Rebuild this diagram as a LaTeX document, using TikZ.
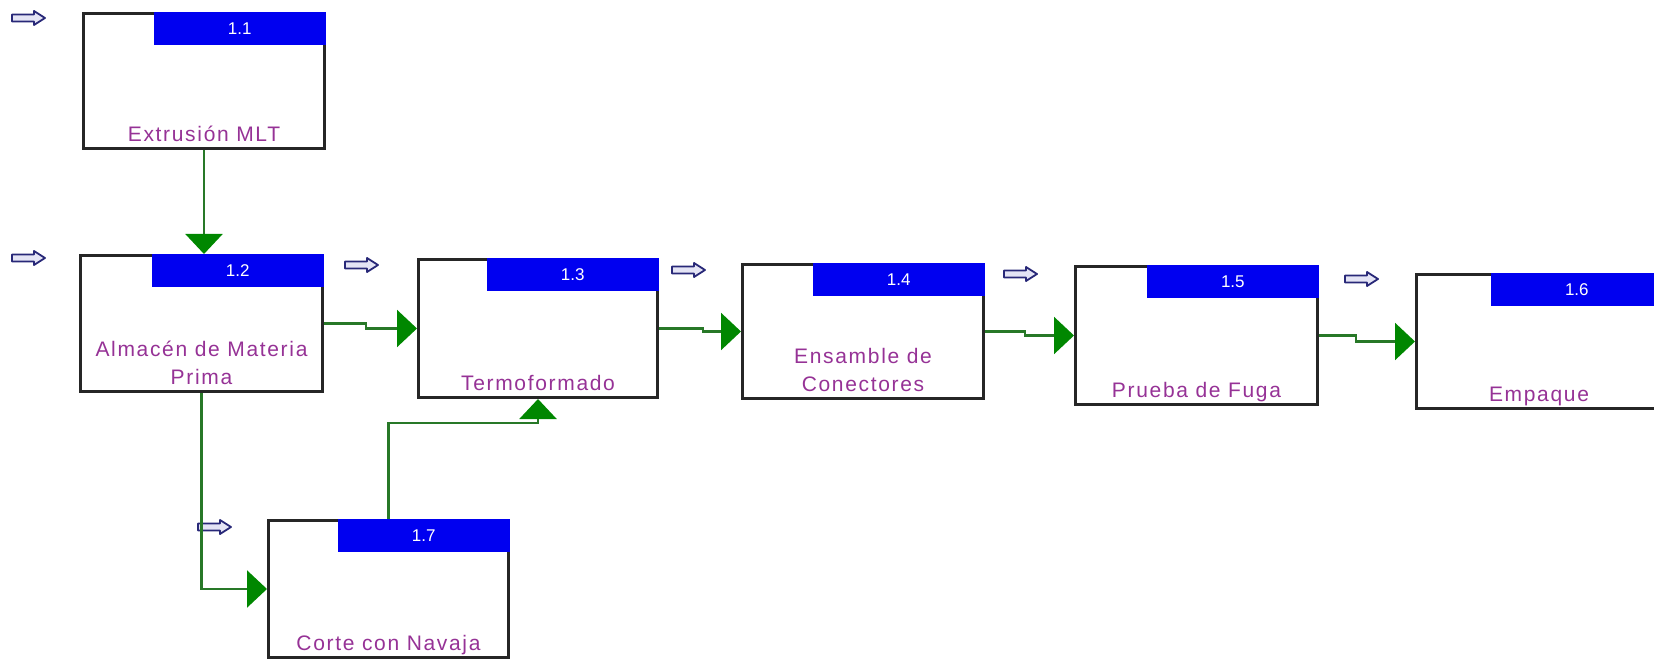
\documentclass[tikz,border=0pt]{standalone}
\usepackage{fontspec}
\setmainfont{Liberation Sans}
\newfontfamily\lblfont[LetterSpace=8]{Liberation Sans}
\usetikzlibrary{arrows.meta,calc}
\definecolor{barblue}{RGB}{0,0,240}
\definecolor{flowgreen}{RGB}{0,135,0}
\definecolor{linegreen}{RGB}{40,120,40}
\definecolor{lblpurple}{RGB}{150,50,150}
\definecolor{portnavy}{RGB}{40,40,120}
\definecolor{portfill}{RGB}{228,228,245}
\begin{document}
\begin{tikzpicture}[x=1pt,y=-1pt,
  stepbox/.style={draw=black!85, line width=3pt, fill=white, anchor=north west,
    inner sep=0pt, minimum width=241pt},
  idbar/.style={fill=barblue, anchor=north east, inner sep=0pt, minimum height=33pt,
    minimum width=172pt, text=white, font=\fontsize{17}{17}\selectfont},
  lbl/.style={text=lblpurple, font=\lblfont\fontsize{21}{28}\selectfont, align=center,
    anchor=south, inner sep=0pt, text depth=0pt},
  flow/.style={draw=linegreen, line width=2.3pt,
    -{Triangle[length=20pt,width=37pt,color=flowgreen]}},
  inport/.pic={\draw[portnavy, fill=portfill, line width=1.8pt, line join=round]
    (0,-3.5) -- (22,-3.5) -- (22,-7) -- (33,0) -- (22,7) -- (22,3.5) -- (0,3.5) -- cycle;}
]
\useasboundingbox (0,0) rectangle (1654,660);
\clip (0,0) rectangle (1654,660);

% process boxes
\node[stepbox, minimum height=135pt] (b1) at (82,12) {};
\node[stepbox, minimum width=242pt, minimum height=136pt] (b2) at (79,254) {};
\node[stepbox, minimum width=239pt, minimum height=138pt] (b3) at (417,258) {};
\node[stepbox, minimum height=134pt] (b4) at (741,263) {};
\node[stepbox, minimum width=242pt, minimum height=138pt] (b5) at (1074,265) {};
\node[stepbox, minimum width=245pt, minimum height=134pt] (b6) at (1415,273) {};
\node[stepbox, minimum width=240pt, minimum height=137pt] (b7) at (267,519) {};

% identifier bars
\node[idbar] (t1) at (b1.north east) {1.1};
\node[idbar] (t2) at (b2.north east) {1.2};
\node[idbar] (t3) at (b3.north east) {1.3};
\node[idbar] (t4) at (b4.north east) {1.4};
\node[idbar] (t5) at (b5.north east) {1.5};
\node[idbar] (t6) at (b6.north east) {1.6};
\node[idbar] (t7) at (b7.north east) {1.7};

% step names
\node[lbl] (l1) at ([yshift=8.5pt]b1.south) {Extrusión MLT};
\node[lbl] (l2) at ([yshift=8.5pt]b2.south) {Almacén de Materia\\Prima};
\node[lbl] (l3) at ([yshift=8.5pt]b3.south) {Termoformado};
\node[lbl] (l4) at ([yshift=8.5pt]b4.south) {Ensamble de\\Conectores};
\node[lbl] (l5) at ([yshift=8.5pt]b5.south) {Prueba de Fuga};
\node[lbl] (l6) at ([yshift=8.5pt]b6.south) {Empaque};
\node[lbl] (l7) at ([yshift=8.5pt]b7.south) {Corte con Navaja};

% input markers
\pic at (12,18) {inport};
\pic at (12,258) {inport};
\pic at (345,265) {inport};
\pic at (672,270) {inport};
\pic at (1004,274) {inport};
\pic at (1345,279) {inport};
\pic at (198,527) {inport};

% flow connectors
\draw[flow] (b1.south) -- (b1.south |- b2.north);
\draw[flow] (b2.east) -- ++(42,0) |- (b3.west);
\draw[flow] (b3.east) -- ++(44,0) |- (b4.west);
\draw[flow] (b4.east) -- ++(40,0) |- (b5.west);
\draw[flow] (b5.east) -- ++(37,0) |- (b6.west);
\draw[flow] (b2.south) |- (b7.west);
\draw[flow] (b7.north) -- ++(0,-96) -| (b3.south);
\end{tikzpicture}
\end{document}
